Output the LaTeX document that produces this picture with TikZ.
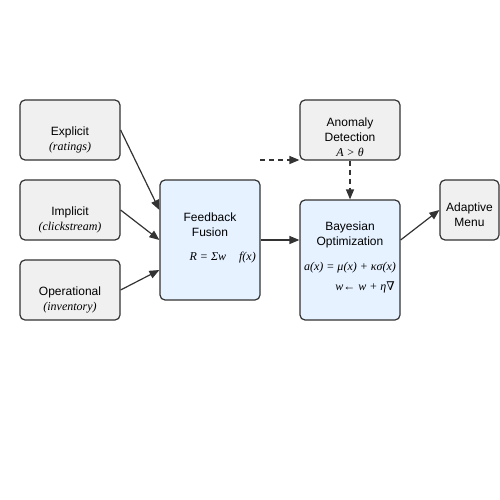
\documentclass[tikz,border=0pt]{standalone}
\usepackage{fontspec}
\setmainfont{Liberation Sans}
\newfontfamily\serifit{Liberation Serif}
\newfontfamily\dvserif{DejaVu Serif}
\usetikzlibrary{arrows.meta}
\definecolor{boxgray}{HTML}{F0F0F0}
\definecolor{boxblue}{HTML}{E6F2FF}
\definecolor{edgecol}{HTML}{333333}
\tikzset{
  x=1pt, y=-1pt,
  box/.style={draw=edgecol, line width=1.2pt, rounded corners=5pt, fill=boxgray, inner sep=0pt},
  bluebox/.style={box, fill=boxblue},
  lbl/.style={font=\fontsize{12}{15}\selectfont, align=center, inner sep=0pt},
  mth/.style={font=\fontsize{12}{14}\selectfont\serifit\itshape, inner sep=0pt},
  arr/.style={draw=edgecol, line width=1.2pt, -{Triangle[length=10pt,width=8pt]}},
  darr/.style={arr, dash pattern=on 5pt off 4pt},
}
\begin{document}
\begin{tikzpicture}
\useasboundingbox (0,0) rectangle (500,500);
% boxes
\node[box, minimum width=100pt, minimum height=60pt] (ex) at (70,130) {};
\node[lbl] (ext) at (70,132) {Explicit};
\node[mth] (exs) at (70,147.5) {(ratings)};

\node[box, minimum width=100pt, minimum height=60pt] (im) at (70,210) {};
\node[lbl] (imt) at (70,212) {Implicit};
\node[mth] (ims) at (70,227.5) {(clickstream)};

\node[box, minimum width=100pt, minimum height=60pt] (op) at (70,290) {};
\node[lbl] (opt) at (70,292) {Operational};
\node[mth] (ops) at (70,307.5) {(inventory)};

\node[bluebox, minimum width=100pt, minimum height=120pt] (ff) at (210,240) {};
\node[lbl] (fft) at (210,225) {Feedback\\Fusion};
\node[mth, anchor=east] (ffm) at (256,257.5) {R = Σw\hspace{13pt}f(x)};

\node[box, minimum width=100pt, minimum height=60pt] (an) at (350,130) {};
\node[lbl] (ant) at (350,130) {Anomaly\\Detection};
\node[mth] (anm) at (350,152.5) {A > θ};

\node[bluebox, minimum width=100pt, minimum height=120pt] (bo) at (350,260) {};
\node[lbl] (bot) at (350,235) {Bayesian\\Optimization};
\node[mth] (bom) at (350,267.5) {a(x) = μ(x) + κσ(x)};
\node[mth, anchor=east] (bow) at (395,287.5) {w← w + η{\dvserif\itshape ∇}};

\node[box, minimum width=59pt, minimum height=60pt] (am) at (469.5,210) {};
\node[lbl] (amt) at (469.5,215) {Adaptive\\Menu};

% connectors
\coordinate (ds) at (260,160);
\draw[arr] (ex.east) -- (ff.west |- 0,210);
\draw[arr] (im.east) -- (ff.west |- 0,240);
\draw[arr] (op.east) -- (ff.west |- 0,270);
\draw[arr] (ff.east) -- (bo.west |- ff.east);
\draw[darr] (ds) -- (an.west |- ds);
\draw[darr] (an.south) -- (bo.north);
\draw[arr] (bo.east |- ff.east) -- (am.west);
\end{tikzpicture}
\end{document}
